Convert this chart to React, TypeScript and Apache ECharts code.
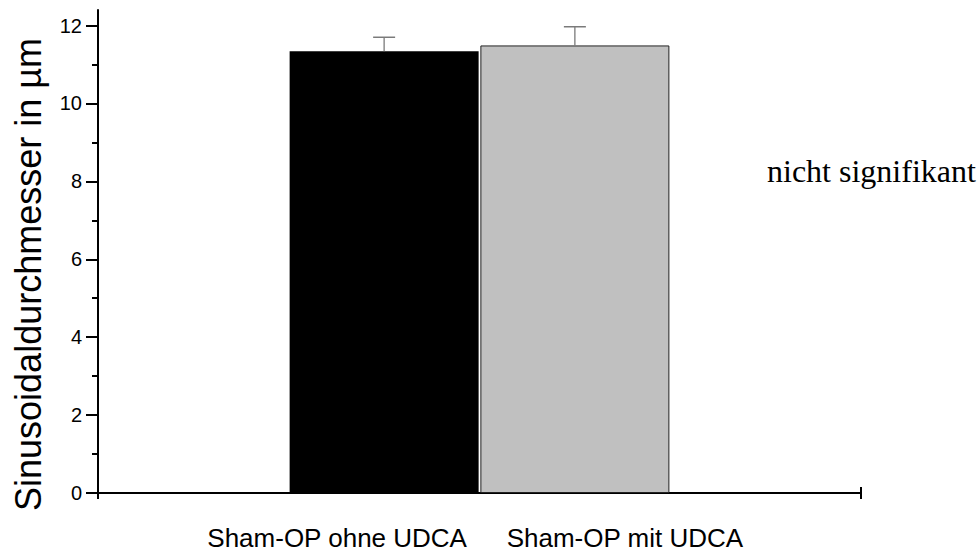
import React, { useEffect, useRef } from "react";
import * as echarts from "echarts";

const categories = ["", "Sham-OP ohne UDCA", "Sham-OP mit UDCA", ""];
const meanValues = [null, 11.34, 11.49, null];
const errorValues = [null, 0.36, 0.48, null];
const barColors = ["#000000", "#000000", "#c0c0c0", "#000000"];
const yMajorTicks = [0, 2, 4, 6, 8, 10, 12];
const yMinorTicks = [1, 3, 5, 7, 9, 11];
const yTitle = "Sinusoidaldurchmesser in µm";
const noteText = "nicht signifikant";

export default function App() {
  const ref = useRef<HTMLDivElement>(null);
  useEffect(() => {
    if (!ref.current) return;
    const chart = echarts.init(ref.current, null, { renderer: "svg" });
    const barData = meanValues.map((v, i) => ({
      value: v,
      itemStyle: {
        color: barColors[i],
        borderColor: i === 2 ? "#222222" : barColors[i],
        borderWidth: i === 2 ? 1 : 0,
      },
    }));
    const errData: any[] = [];
    meanValues.forEach((v, i) => {
      if (v != null && errorValues[i] != null) errData.push([i, v, v + (errorValues[i] as number)]);
    });
    const sans = "'Liberation Sans', Arial, sans-serif";
    chart.setOption({
      animation: false,
      grid: { left: 98, right: 119, top: 10, bottom: 59, containLabel: false, outerBoundsMode: "none" },
      xAxis: [
        {
          type: "category",
          data: categories,
          boundaryGap: true,
          axisLine: { show: true, lineStyle: { color: "#000", width: 2 } },
          axisTick: { show: false },
          splitLine: { show: false },
          axisLabel: {
            interval: 0,
            margin: 32,
            formatter: (value: string, index: number) =>
              value ? (index === 1 ? `{l|${value}}` : `{r|${value}}`) : "",
            rich: {
              l: { fontSize: 26, fontFamily: sans, color: "#000", padding: [0, 94, 0, 0] },
              r: { fontSize: 26, fontFamily: sans, color: "#000", padding: [0, 0, 0, 100] },
            },
          },
        },
        {
          type: "value",
          min: 0,
          max: 4,
          position: "bottom",
          axisLine: { show: false },
          axisLabel: { show: false },
          splitLine: { show: false },
          axisTick: {
            show: true,
            customValues: [0, 4],
            length: 6,
            inside: false,
            lineStyle: { color: "#000", width: 2 },
          },
        },
        {
          type: "value",
          min: 0,
          max: 4,
          position: "bottom",
          axisLine: { show: false },
          axisLabel: { show: false },
          splitLine: { show: false },
          axisTick: {
            show: true,
            customValues: [4],
            length: 6,
            inside: true,
            lineStyle: { color: "#000", width: 2 },
          },
        },
      ],
      yAxis: [
        {
          type: "value",
          min: 0,
          max: 12.4,
          interval: 2,
          name: yTitle,
          nameLocation: "middle",
          nameGap: 52,
          nameRotate: 90,
          nameTextStyle: {
            fontSize: 36,
            fontFamily: sans,
            color: "#000",
            padding: [0, 46, 0, 0],
          },
          axisLine: { show: true, lineStyle: { color: "#000", width: 2 } },
          axisTick: {
            show: true,
            customValues: yMajorTicks,
            length: 12,
            lineStyle: { color: "#000", width: 2 },
          },
          axisLabel: {
            customValues: yMajorTicks,
            margin: 16,
            fontSize: 20,
            fontFamily: sans,
            color: "#000",
          },
          splitLine: { show: false },
        },
        {
          type: "value",
          min: 0,
          max: 12.4,
          position: "left",
          axisLine: { show: false },
          axisLabel: { show: false },
          splitLine: { show: false },
          axisTick: {
            show: true,
            customValues: yMinorTicks,
            length: 6,
            lineStyle: { color: "#000", width: 2 },
          },
        },
      ],
      series: [
        {
          type: "bar",
          xAxisIndex: 0,
          yAxisIndex: 0,
          data: barData,
          barWidth: 189,
          barGap: "0%",
        },
        {
          type: "custom",
          xAxisIndex: 0,
          yAxisIndex: 0,
          data: errData,
          z: 5,
          renderItem: (params: any, api: any) => {
            const base = api.coord([api.value(0), api.value(1)]);
            const top = api.coord([api.value(0), api.value(2)]);
            const half = 11;
            return {
              type: "group",
              children: [
                {
                  type: "line",
                  shape: { x1: base[0], y1: base[1], x2: top[0], y2: top[1] },
                  style: { stroke: "#7a7a7a", lineWidth: 1.3 },
                },
                {
                  type: "line",
                  shape: { x1: top[0] - half, y1: top[1], x2: top[0] + half, y2: top[1] },
                  style: { stroke: "#7a7a7a", lineWidth: 1.5 },
                },
              ],
            };
          },
        },
      ],
      graphic: [
        {
          type: "text",
          left: 767,
          top: 155,
          style: {
            text: noteText,
            fontSize: 32,
            fontFamily: "'Liberation Serif', 'Times New Roman', serif",
            fill: "#000",
          },
        },
      ],
    });
    return () => chart.dispose();
  }, []);
  return <div ref={ref} style={{ width: 980, height: 552, position: "absolute", left: 0, top: 0 }} />;
}
